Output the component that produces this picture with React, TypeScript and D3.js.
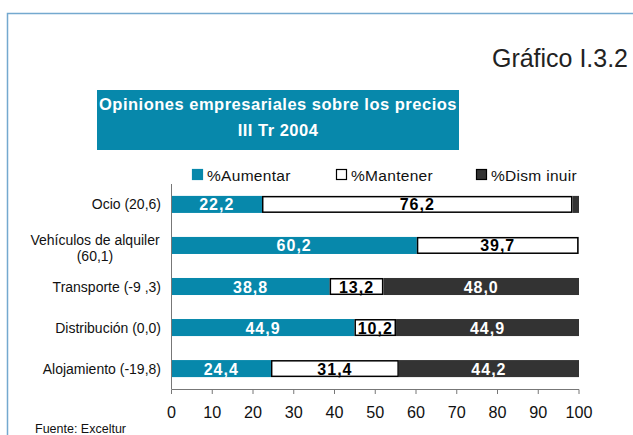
import * as d3 from "d3";

const categories = [
  "Ocio (20,6)",
  "Vehículos de alquiler (60,1)",
  "Transporte (-9 ,3)",
  "Distribución  (0,0)",
  "Alojamiento (-19,8)",
];
const aumentar = [22.2, 60.2, 38.8, 44.9, 24.4];
const mantener = [76.2, 39.7, 13.2, 10.2, 31.4];
const disminuir = [1.6, 0.1, 48.0, 44.9, 44.2];
const xTicks = [0, 10, 20, 30, 40, 50, 60, 70, 80, 90, 100];
const seriesNames = ["%Aumentar", "%Mantener", "%Dism inuir"];

const BLUE = "#0788ab";
const DARK = "#333333";
const SANS = "'Liberation Sans', Arial, sans-serif";

export default function App() {
  const x = d3.scaleLinear().domain([0, 100]).range([171.5, 579]);
  const y = d3
    .scaleBand()
    .domain(categories)
    .range([184, 389])
    .paddingInner(0.585)
    .paddingOuter(0.29);
  const bh = y.bandwidth();

  const series = [aumentar, mantener, disminuir];
  const fills = [BLUE, "#ffffff", DARK];
  const textFill = ["#ffffff", "#000000", "#ffffff"];

  const segs: any[] = [];
  categories.forEach((c, i) => {
    let acc = 0;
    series.forEach((s, k) => {
      const v = s[i];
      segs.push({ c, k, x0: acc, x1: acc + v, v });
      acc += v;
    });
  });

  return (
    <svg
      width={633}
      height={435}
      style={{ position: "absolute", left: 0, top: 0, background: "#fff" }}
    >
      <rect x={7.5} y={13.5} width={640} height={440} fill="none" stroke="#74a9cf" strokeWidth={1.5} />
      <text x={628} y={67} textAnchor="end" fontFamily={SANS} fontSize={25} fill="#222"
        textLength={136} lengthAdjust="spacingAndGlyphs">
        Gráfico I.3.2
      </text>
      <rect x={97} y={90} width={362} height={60} fill="#0788ab" />
      <text x={278} y={110} textAnchor="middle" fontFamily={SANS} fontWeight="bold" fontSize={16.5} letterSpacing={0.5} fill="#fff">
        Opiniones empresariales sobre los precios
      </text>
      <text x={278} y={136} textAnchor="middle" fontFamily={SANS} fontWeight="bold" fontSize={16.5} letterSpacing={0.5} fill="#fff">
        III Tr 2004
      </text>

      {/* legend */}
      {seriesNames.map((n, k) => {
        const lx = [192, 336, 476][k];
        return (
          <g key={n}>
            <rect x={lx + 0.5} y={169.5} width={10} height={10} fill={fills[k]} stroke={k === 0 ? BLUE : "#000"} strokeWidth={1.2} />
            <text x={lx + 15} y={180.5} fontFamily={SANS} fontSize={15.5} letterSpacing={0.3} fill="#111">
              {n}
            </text>
          </g>
        );
      })}

      {/* bars */}
      {segs.map((d, i) => {
        const w = x(d.x1) - x(d.x0);
        const yy = y(d.c)!;
        const white = d.k === 1;
        return (
          <g key={i}>
            <rect
              x={x(d.x0) + (white ? 0.75 : 0)}
              y={yy + (white ? 0.75 : 0)}
              width={Math.max(0, w - (white ? 1.5 : 0))}
              height={bh - (white ? 1.5 : 0)}
              fill={fills[d.k]}
              stroke={white ? "#000" : "none"}
              strokeWidth={1.5}
            />
            {d.v >= 5 && (
              <text
                x={(x(d.x0) + x(d.x1)) / 2}
                y={yy + bh / 2 + 6}
                textAnchor="middle"
                fontFamily={SANS}
                fontWeight="bold"
                fontSize={16}
                letterSpacing={1}
                fill={textFill[d.k]}
              >
                {d.v.toFixed(1).replace(".", ",")}
              </text>
            )}
          </g>
        );
      })}

      {/* y axis and category labels */}
      <line x1={171.5} x2={171.5} y1={184} y2={389} stroke="#777" strokeWidth={1} />
      {categories.map((c) => {
        const cy = y(c)! + bh / 2;
        if (c.startsWith("Vehículos")) {
          return (
            <text key={c} textAnchor="middle" fontFamily={SANS} fontSize={14} fill="#111">
              <tspan x={95} y={cy}>Vehículos de alquiler</tspan>
              <tspan x={95} y={cy + 16}>(60,1)</tspan>
            </text>
          );
        }
        return (
          <text key={c} x={161} y={cy + 5} textAnchor="end" fontFamily={SANS} fontSize={14} fill="#111">
            {c}
          </text>
        );
      })}

      {/* x axis */}
      <line x1={171.5} x2={579} y1={389.5} y2={389.5} stroke="#777" strokeWidth={1} />
      {xTicks.map((t) => (
        <g key={t}>
          <line x1={x(t)} x2={x(t)} y1={389.5} y2={394} stroke="#777" strokeWidth={1} />
          <text x={x(t)} y={418} textAnchor="middle" fontFamily={SANS} fontSize={17}
            textLength={String(t).length * 9} lengthAdjust="spacingAndGlyphs" fill="#111">
            {t}
          </text>
        </g>
      ))}

      <text x={35} y={433} fontFamily={SANS} fontSize={12.5} fill="#111">
        Fuente: Exceltur
      </text>
    </svg>
  );
}
